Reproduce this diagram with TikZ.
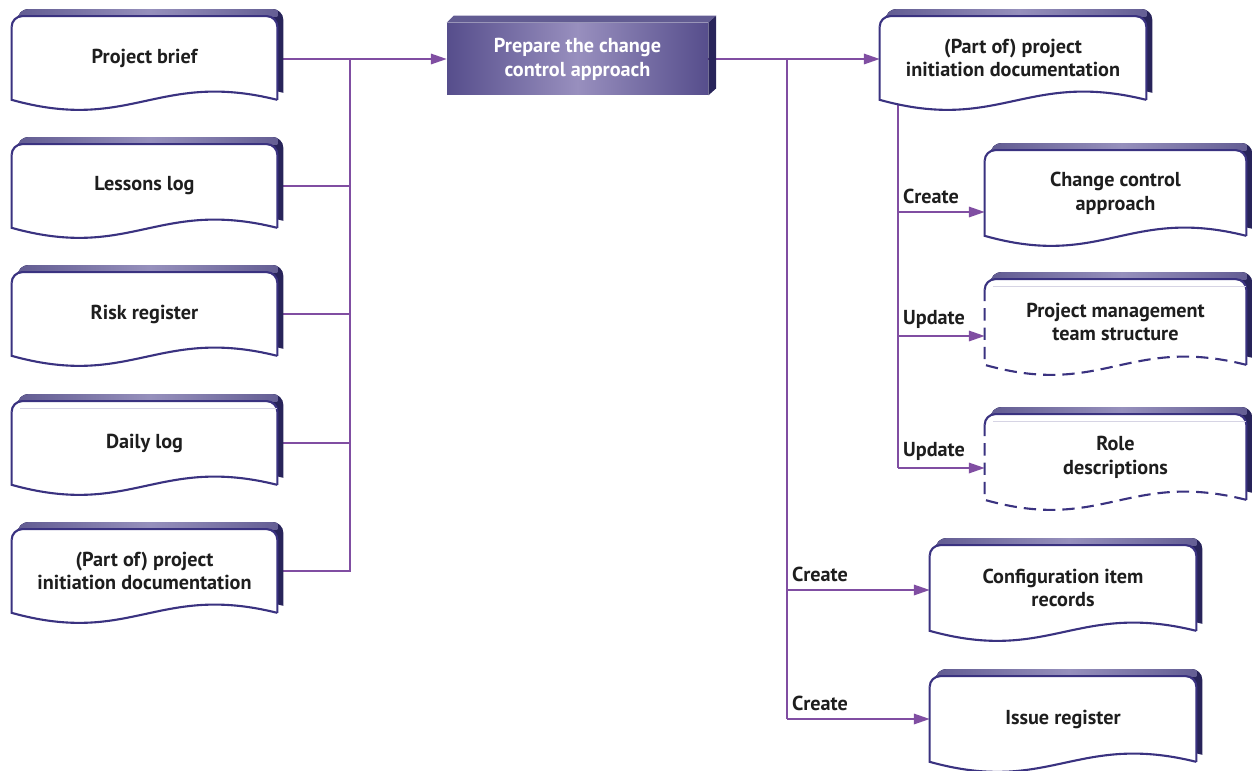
\documentclass[tikz,border=0pt]{standalone}
\usepackage{fontspec}
\setmainfont{PT Sans}
\usetikzlibrary{arrows.meta, positioning, calc}

\definecolor{FlowPurple}{RGB}{128,78,162}
\definecolor{DocEdge}{RGB}{58,50,128}
\definecolor{BevelSide}{RGB}{40,36,90}
\definecolor{BevelTop}{RGB}{98,92,146}
\definecolor{BevelLight}{RGB}{150,144,188}
\definecolor{ProcEdge}{RGB}{86,78,140}
\definecolor{ProcMid}{RGB}{152,143,190}
\definecolor{TextDark}{RGB}{30,30,30}
\definecolor{Faint}{RGB}{214,212,228}

\pgfdeclarelayer{lines}
\pgfdeclarelayer{shapes}
\pgfsetlayers{lines,shapes,main}

% outline of a document box round a named node, moved by (#2,#3)
\newcommand{\docpath}[3]{let \p1=(#1.south west), \p2=(#1.north east) in
  (\x1+#2,\y1+#3) -- (\x1+#2,\y2-6pt+#3) arc[start angle=180,end angle=90,radius=6pt]
  -- (\x2-6pt+#2,\y2+#3) arc[start angle=90,end angle=0,radius=6pt] -- (\x2+#2,\y1+#3)
  .. controls ({\x1+0.55*(\x2-\x1)+#2},\y1+17pt+#3) and ({\x1+0.45*(\x2-\x1)+#2},\y1-19pt+#3) .. (\x1+#2,\y1+#3) -- cycle}

% bevelled document; #1 = options for left side and bottom wave
\newcommand{\docshape}[2][]{%
  \begin{pgfonlayer}{shapes}
    \fill[BevelSide, path picture={\fill[left color=BevelTop, right color=BevelTop, middle color=BevelLight]
        (path picture bounding box.north west) rectangle ([xshift=-3.4pt,yshift=-4pt]path picture bounding box.north east);}]
      \docpath{#2}{3.4pt}{4pt};
    \fill[white] \docpath{#2}{0pt}{0pt};
    \draw[DocEdge, line width=1.2pt] let \p1=(#2.south west), \p2=(#2.north east) in
      (\x1,\y2-6pt) arc[start angle=180,end angle=90,radius=6pt] -- (\x2-6pt,\y2)
      arc[start angle=90,end angle=0,radius=6pt] -- (\x2,\y1);
    \draw[DocEdge, line width=1.2pt, #1] let \p1=(#2.south west), \p2=(#2.north east) in
      (\x2,\y1) .. controls ({\x1+0.55*(\x2-\x1)},\y1+17pt) and ({\x1+0.45*(\x2-\x1)},\y1-19pt) .. (\x1,\y1)
      -- (\x1,\y2-6pt);
  \end{pgfonlayer}}

\begin{document}
\begin{tikzpicture}[
    x=0.02cm, y=-0.02cm,
    every node/.style={font=\fontsize{11.5}{13.5}\selectfont\bfseries, text=TextDark, align=center},
    docbox/.style={inner sep=0pt, minimum width=5.3cm, minimum height=1.66cm},
    outbox/.style={inner sep=0pt, minimum width=5.22cm, minimum height=1.7cm},
    procbox/.style={inner sep=0pt, minimum width=5.22cm, minimum height=1.44cm, text=white,
                left color=ProcEdge, right color=ProcEdge, middle color=ProcMid},
    line/.style={draw=FlowPurple, line width=0.9pt},
    flow/.style={line, -{Triangle[length=9pt, width=6pt]}},
    lbl/.style={inner xsep=2.5pt, inner ysep=4pt}
]
\useasboundingbox (0,0) rectangle (1252,771);

% inputs
\node[docbox] (pb) at (144.5,58) {Project brief};
\node[docbox] (ll) at (144.5,186) {Lessons log};
\node[docbox] (rr) at (144.5,314) {Risk register};
\node[docbox] (dl) at (144.5,443) {Daily log};
\node[docbox] (pidl) at (144.5,571) {(Part of) project\\initiation documentation};

% activity
\node[procbox] (prep) at (577.5,59) {Prepare the change\\control approach};

% outputs
\node[docbox, minimum width=5.32cm] (pid) at (1013,58) {(Part of) project\\initiation documentation};
\node[outbox] (cca) at (1115.5,193) {Change control\\approach};
\node[outbox] (pmts) at (1115.5,322) {Project management\\team structure};
\node[outbox] (rd) at (1115.5,457) {Role\\descriptions};
\node[outbox, minimum width=5.32cm] (cir) at (1063,588) {Configuration item\\records};
\node[outbox, minimum width=5.32cm] (ir) at (1063,719) {Issue register};

\docshape{pb}
\docshape{ll}
\docshape{rr}
\docshape{dl}
\docshape{pidl}
\docshape{pid}
\docshape{cca}
\docshape[dashed, dash pattern=on 7pt off 4pt]{pmts}
\docshape[dashed, dash pattern=on 7pt off 4pt]{rd}
\docshape{cir}
\docshape{ir}

\begin{pgfonlayer}{shapes}
  \fill[BevelTop] (prep.north west) -- ([shift={(4pt,4pt)}]prep.north west)
    -- ([shift={(4.5pt,4pt)}]prep.north east) -- (prep.north east) -- cycle;
  \fill[BevelSide] (prep.north east) -- ([shift={(4.5pt,4pt)}]prep.north east)
    -- ([shift={(4.5pt,4pt)}]prep.south east) -- (prep.south east) -- cycle;
  \draw[Faint, line width=0.6pt] ([shift={(5pt,-4pt)}]dl.north west) -- ([yshift=-4pt]dl.north east);
  \draw[Faint, line width=0.6pt] ([shift={(5pt,-4pt)}]pmts.north west) -- ([yshift=-4pt]pmts.north east);
  \draw[Faint, line width=0.6pt] ([shift={(5pt,-4pt)}]rd.north west) -- ([yshift=-4pt]rd.north east);
\end{pgfonlayer}

\coordinate (lb) at (350,59);
\coordinate (rb0) at (787,59);
\coordinate (rb1) at (787,590);
\coordinate (rb2) at (787,719);
\coordinate (pbus) at (898,100);
\coordinate (c1) at (898,212);
\coordinate (c2) at (898,336);
\coordinate (c3) at (898,468);

\begin{pgfonlayer}{lines}
  \draw[flow] (pb.east |- lb) -- (prep.west |- lb);
  \draw[line] (ll.east) -- (ll.east -| lb);
  \draw[line] (rr.east) -- (rr.east -| lb);
  \draw[line] (dl.east) -- (dl.east -| lb);
  \draw[line] (lb) |- (pidl.east);

  \draw[flow] (prep.east |- rb0) -- (pid.west |- rb0);
  \draw[line] (rb0) -- (rb2);
  \draw[flow] (rb1) -- (rb1 -| cir.west) node[lbl, pos=0, above right] {Create};
  \draw[flow] (rb2) -- (rb2 -| ir.west) node[lbl, pos=0, above right] {Create};

  \draw[line] (pbus) -- (c3);
  \draw[flow] (c1) -- (c1 -| cca.west) node[lbl, pos=0, above right] {Create};
  \draw[flow] (c2) -- (c2 -| pmts.west) node[lbl, pos=0, above right] {Update};
  \draw[flow] (c3) -- (c3 -| rd.west) node[lbl, pos=0, above right] {Update};
\end{pgfonlayer}
\end{tikzpicture}
\end{document}
